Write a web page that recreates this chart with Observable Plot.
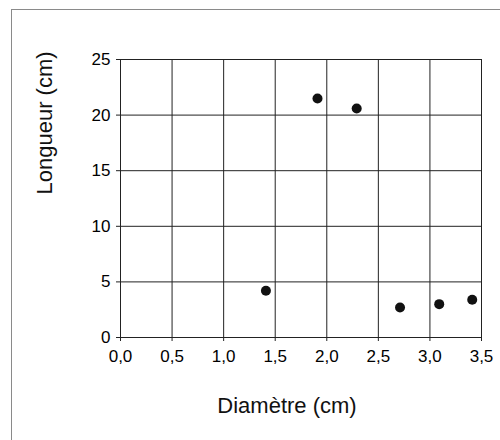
<!DOCTYPE html>
<html>
<head>
<meta charset="utf-8">
<script src="https://cdn.jsdelivr.net/npm/d3@7"></script>
<script src="https://cdn.jsdelivr.net/npm/@observablehq/plot@0.6"></script>
<style>
  html, body { margin: 0; padding: 0; background: #fff; }
  #wrap { position: relative; width: 500px; height: 440px; overflow: hidden; }
  #border { position: absolute; left: 11px; top: 9px; width: 700px; height: 700px;
            border-left: 1px solid #8a8a8a; border-top: 1px solid #8a8a8a; }
  #chart { position: absolute; left: 0; top: 0; }
</style>
</head>
<body>
<div id="wrap"><div id="border"></div><div id="chart"></div></div>
<script>
const diametres = [1.41, 1.91, 2.29, 2.71, 3.09, 3.41];
const longueurs = [4.2, 21.5, 20.6, 2.7, 3.0, 3.4];
const xTicks = [0, 0.5, 1.0, 1.5, 2.0, 2.5, 3.0, 3.5];
const yTicks = [0, 5, 10, 15, 20, 25];
const xTitle = "Diamètre (cm)";
const yTitle = "Longueur (cm)";

const data = diametres.map((d, i) => ({d, l: longueurs[i]}));
const fmt = v => d3.format(".1f")(v).replace(".", ",");

const chart = Plot.plot({
  width: 500,
  height: 440,
  marginLeft: 120,
  marginRight: 19,
  marginTop: 59,
  marginBottom: 103,
  style: {fontFamily: "'Liberation Sans', Arial, sans-serif", fontSize: "17px", background: "transparent", color: "#000"},
  x: {domain: [0, 3.5]},
  y: {domain: [0, 25]},
  marks: [
    Plot.gridX(xTicks, {stroke: "#222", strokeOpacity: 1, strokeWidth: 1}),
    Plot.gridY(yTicks, {stroke: "#222", strokeOpacity: 1, strokeWidth: 1}),
    Plot.frame({stroke: "#222"}),
    Plot.axisX({ticks: xTicks, tickFormat: fmt, tickSize: 4, tickPadding: 8, label: null, stroke: "#222", fill: "#000", fontSize: 17}),
    Plot.axisY({ticks: yTicks, tickSize: 4, tickPadding: 6, label: null, stroke: "#222", fill: "#000", fontSize: 17}),
    Plot.dot(data, {x: "d", y: "l", r: 5, fill: "#111", stroke: "none"}),
    Plot.text([yTitle], {text: d => d, frameAnchor: "left", dx: -76, dy: -4, rotate: -90, lineAnchor: "middle", fontSize: 22, fill: "#111"}),
    Plot.text([xTitle], {text: d => d, frameAnchor: "bottom", dx: -14, dy: 68, lineAnchor: "middle", fontSize: 22, fill: "#111"})
  ]
});
document.getElementById("chart").appendChild(chart);
</script>
</body>
</html>
